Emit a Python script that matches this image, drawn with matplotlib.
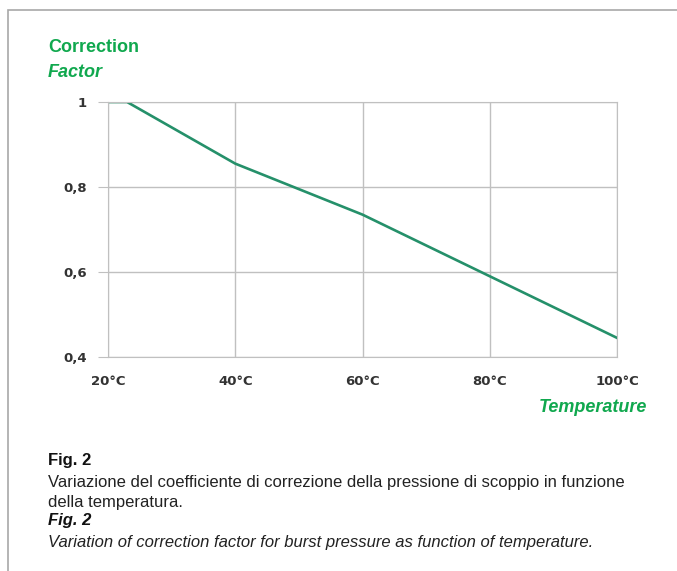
import matplotlib.pyplot as plt
from matplotlib.patches import Rectangle

temps = [20, 23, 40, 60, 80, 100]
factor = [1.0, 1.0, 0.855, 0.735, 0.59, 0.445]
xticks = [20, 40, 60, 80, 100]
xlabels = ['20°C', '40°C', '60°C', '80°C', '100°C']
yticks = [0.4, 0.6, 0.8, 1.0]
ylabels = ['0,4', '0,6', '0,8', '1']

green = '#10a84e'
sans = ['Liberation Sans', 'DejaVu Sans']

fig = plt.figure(figsize=(6.77, 5.71), dpi=100)
fig.patches.append(Rectangle((8 / 677, -0.1), 1.1, 1 - 10 / 571 + 0.1,
                             transform=fig.transFigure, fill=False,
                             edgecolor='#a8a8a8', linewidth=1.2))

ax = fig.add_axes([108 / 677, 1 - 357 / 571, (617 - 108) / 677, (357 - 102) / 571])
ax.plot(temps, factor, color='#25906a', linewidth=1.9)
ax.set_xlim(20, 100)
ax.set_ylim(0.4, 1.0)
ax.set_xticks(xticks)
ax.set_xticklabels(xlabels, fontsize=9.5, fontweight='bold', color='#333333')
ax.set_yticks(yticks)
ax.set_yticklabels(ylabels, fontsize=9.5, fontweight='bold', color='#333333')
ax.grid(True, color='#c0c0c0', linewidth=1)
for s in ax.spines.values():
    s.set_color('#c0c0c0')
ax.tick_params(axis='y', length=7, color='#c0c0c0', pad=8)
ax.tick_params(axis='x', length=0, pad=13)

fig.text(48 / 677, 1 - 47 / 571, 'Correction', fontsize=13, fontweight='bold',
         color=green, family=sans, va='center')
fig.text(48 / 677, 1 - 72 / 571, 'Factor', fontsize=13, fontweight='bold',
         style='italic', color=green, family=sans, va='center')
fig.text(647 / 677, 1 - 407 / 571, 'Temperature', fontsize=13, fontweight='bold',
         style='italic', color=green, family=sans, va='center', ha='right')

fig.text(48 / 677, 1 - 461 / 571, 'Fig. 2', fontsize=12, fontweight='bold',
         color='#111111', family=sans, va='center')
fig.text(48 / 677, 1 - 483 / 571,
         'Variazione del coefficiente di correzione della pressione di scoppio in funzione',
         fontsize=12, color='#222222', family=sans, va='center')
fig.text(48 / 677, 1 - 502 / 571, 'della temperatura.',
         fontsize=12, color='#222222', family=sans, va='center')
fig.text(48 / 677, 1 - 521 / 571, 'Fig. 2', fontsize=12, fontweight='bold',
         style='italic', color='#111111', family=sans, va='center')
fig.text(48 / 677, 1 - 542 / 571,
         'Variation of correction factor for burst pressure as function of temperature.',
         fontsize=12, style='italic', color='#222222', family=sans, va='center')

fig.savefig('out.png', dpi=100)
